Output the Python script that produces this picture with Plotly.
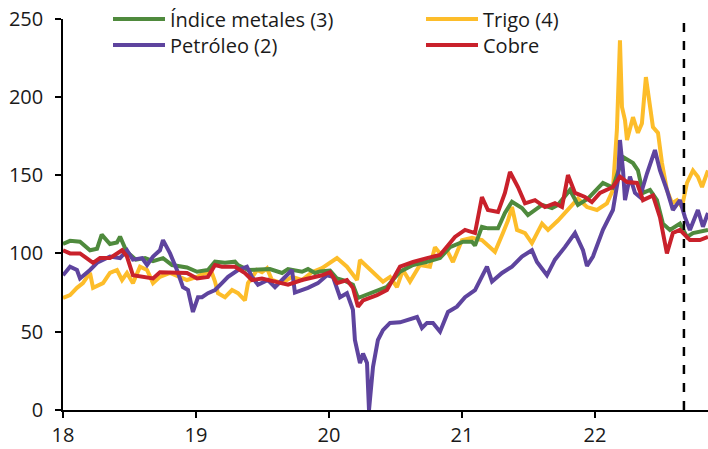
import plotly.graph_objects as go

# ---------------- data ----------------
metales_x = [2018.000, 2018.053, 2018.128, 2018.203, 2018.256, 2018.291, 2018.353, 2018.406, 2018.429, 2018.479,
             2018.549, 2018.617, 2018.677, 2018.752, 2018.820, 2018.880, 2018.932, 2019.008, 2019.090, 2019.143,
             2019.218, 2019.293, 2019.316, 2019.391, 2019.496, 2019.556, 2019.647, 2019.692, 2019.797, 2019.842,
             2019.895, 2019.932, 2020.008, 2020.060, 2020.105, 2020.180, 2020.218, 2020.308, 2020.436, 2020.534,
             2020.632, 2020.737, 2020.835, 2020.910, 2021.008, 2021.075, 2021.098, 2021.150, 2021.195, 2021.271,
             2021.323, 2021.376, 2021.451, 2021.496, 2021.602, 2021.677, 2021.722, 2021.812, 2021.872, 2021.947,
             2022.023, 2022.060, 2022.135, 2022.211, 2022.286, 2022.323, 2022.361, 2022.414, 2022.466, 2022.511,
             2022.564, 2022.639, 2022.692, 2022.737, 2022.850]
metales_y = [106, 108, 107.5, 102, 103, 112, 106, 107, 110.7, 101,
             96, 97, 95, 97, 92.6, 92, 91, 88.3, 89.4, 94.7,
             94, 94.7, 92.6, 89.4, 89.4, 90, 87.5, 90, 88.3, 90,
             87.5, 88.5, 89, 84, 83, 80, 71.5, 74.6, 78.7, 88.3,
             92.6, 94.7, 97, 104, 107.5, 107.5, 105, 117, 116, 116,
             125.8, 133, 129, 124.5, 131, 129, 131, 140.5, 131, 135,
             141.8, 145, 142, 161.5, 157.7, 153, 138.6, 140.5, 134, 119,
             115, 119, 110.5, 113, 115]

cobre_x = [2018.000, 2018.053, 2018.128, 2018.226, 2018.278, 2018.353, 2018.444, 2018.481, 2018.526, 2018.632,
           2018.677, 2018.729, 2018.827, 2018.932, 2019.008, 2019.090, 2019.143, 2019.195, 2019.293, 2019.368,
           2019.421, 2019.496, 2019.594, 2019.692, 2019.797, 2019.895, 2019.947, 2020.008, 2020.060, 2020.135,
           2020.180, 2020.218, 2020.256, 2020.361, 2020.436, 2020.534, 2020.632, 2020.737, 2020.835, 2020.910,
           2020.947, 2021.023, 2021.098, 2021.150, 2021.195, 2021.271, 2021.323, 2021.361, 2021.421, 2021.474,
           2021.549, 2021.624, 2021.699, 2021.752, 2021.797, 2021.850, 2021.925, 2021.977, 2022.038, 2022.135,
           2022.188, 2022.241, 2022.316, 2022.361, 2022.436, 2022.489, 2022.541, 2022.586, 2022.639, 2022.714,
           2022.789, 2022.850]
cobre_y = [102, 100, 100, 94, 97, 97, 102, 98, 86, 85,
           84, 88, 88, 87.5, 84, 85, 92.6, 91.5, 91.5, 87.5,
           83, 84, 82, 80, 83, 85, 86, 88, 81, 83,
           78, 66, 70, 73.4, 76.6, 91.5, 94.5, 97, 99, 106.6,
           110.5, 115, 113, 136, 127.7, 126.4, 138.6, 152, 142.4, 132,
           134, 129.6, 132, 129.6, 150, 138.6, 136, 132.8, 138.6, 142.4,
           149, 145.6, 145, 134, 137, 123, 100, 113, 115, 108.5,
           108.5, 110.5]

petroleo_x = [2018.000, 2018.053, 2018.105, 2018.128, 2018.203, 2018.256, 2018.353, 2018.429, 2018.481, 2018.526,
              2018.594, 2018.632, 2018.677, 2018.729, 2018.752, 2018.805, 2018.857, 2018.902, 2018.940, 2018.977,
              2019.015, 2019.045, 2019.090, 2019.143, 2019.195, 2019.241, 2019.316, 2019.383, 2019.421, 2019.466,
              2019.541, 2019.594, 2019.647, 2019.722, 2019.744, 2019.842, 2019.917, 2019.985, 2020.030, 2020.083,
              2020.135, 2020.180, 2020.195, 2020.233, 2020.256, 2020.286, 2020.301, 2020.331, 2020.368, 2020.406,
              2020.459, 2020.534, 2020.662, 2020.699, 2020.737, 2020.782, 2020.835, 2020.895, 2020.962, 2021.023,
              2021.098, 2021.188, 2021.226, 2021.301, 2021.376, 2021.451, 2021.526, 2021.564, 2021.639, 2021.699,
              2021.774, 2021.850, 2021.910, 2021.940, 2021.985, 2022.060, 2022.135, 2022.173, 2022.188, 2022.211,
              2022.226, 2022.263, 2022.301, 2022.338, 2022.391, 2022.429, 2022.451, 2022.489, 2022.541, 2022.586,
              2022.639, 2022.677, 2022.714, 2022.774, 2022.812, 2022.850]
petroleo_y = [86, 91.5, 89.4, 84, 89.4, 94, 98, 97, 102, 96,
              97, 92.6, 98, 102, 108.5, 100, 89.4, 78.5, 76.6, 62.6,
              72, 72, 74.6, 76.6, 81, 85, 89.4, 91.5, 85, 80,
              83, 78.5, 83, 89.4, 75, 78, 81, 86, 85, 72,
              74.6, 64, 44.7, 30, 36, 30, 0, 27.5, 44.7, 51,
              55.6, 56, 59.4, 52.4, 55.6, 55.6, 50, 62.6, 66, 72,
              76.6, 91.5, 82, 87.5, 91.5, 98, 102, 94.5, 86, 96,
              104, 113, 102, 92, 98, 115, 127.7, 147, 172.4, 153,
              134, 149, 138.6, 136, 151, 161.5, 166, 153, 140.5, 127.7,
              134, 123, 115, 127.7, 117, 125.8]

trigo_x = [2018.000, 2018.053, 2018.105, 2018.150, 2018.203, 2018.226, 2018.301, 2018.353, 2018.406, 2018.444,
           2018.481, 2018.526, 2018.579, 2018.632, 2018.677, 2018.729, 2018.805, 2018.880, 2018.932, 2019.008,
           2019.068, 2019.120, 2019.143, 2019.165, 2019.218, 2019.271, 2019.316, 2019.368, 2019.391, 2019.459,
           2019.496, 2019.534, 2019.571, 2019.647, 2019.722, 2019.797, 2019.872, 2019.947, 2019.985, 2020.060,
           2020.135, 2020.211, 2020.233, 2020.286, 2020.361, 2020.406, 2020.459, 2020.511, 2020.556, 2020.609,
           2020.684, 2020.759, 2020.797, 2020.835, 2020.887, 2020.932, 2021.000, 2021.075, 2021.150, 2021.248,
           2021.308, 2021.346, 2021.376, 2021.414, 2021.474, 2021.526, 2021.602, 2021.647, 2021.722, 2021.774,
           2021.835, 2021.872, 2021.940, 2022.015, 2022.090, 2022.135, 2022.165, 2022.188, 2022.203, 2022.226,
           2022.241, 2022.263, 2022.286, 2022.323, 2022.353, 2022.383, 2022.414, 2022.436, 2022.474, 2022.504,
           2022.541, 2022.579, 2022.617, 2022.654, 2022.692, 2022.737, 2022.774, 2022.805, 2022.850]
trigo_y = [71.5, 73.4, 78, 81, 87.5, 78, 81, 87.5, 89.4, 83,
           87.5, 81, 91.5, 89.4, 81, 85, 87.5, 85, 83, 85,
           87.5, 87.5, 82, 74.6, 72, 76.6, 74.6, 70, 81, 89.4,
           88, 90.6, 83, 81, 85, 83, 88, 90.6, 92.6, 97,
           91.5, 83, 95.8, 91.5, 86, 82, 85, 78.5, 89.4, 82,
           92.6, 91.5, 104, 100, 102, 94.5, 108.5, 110, 108.5, 101,
           113, 121, 129.6, 115, 113, 106.6, 119, 115, 121, 125.8,
           132, 135, 129.6, 127.7, 132, 140.5, 178.8, 236, 193.5, 185,
           172.4, 180.7, 187, 177, 183, 212.6, 193.5, 180.7, 177, 157.7,
           140.5, 132, 134, 129.6, 145, 153, 149, 142.4, 153]

year_ticks = [2018, 2019, 2020, 2021, 2022]
year_labels = ["18", "19", "20", "21", "22"]
y_ticks = [0, 50, 100, 150, 200, 250]
corte_x = 2022.669   # vertical dashed marker
x_range = [2018.0, 2022.85]
y_range = [0, 250]

FONT = "Open Sans"
TXT = "#1a1a1a"
fig = go.Figure()

# (name, x, y, colour, legend id) -- drawing order: yellow, green, purple, red
series = [
    ("Trigo (4)", trigo_x, trigo_y, "#fdbd2a", "legend2"),
    ("Índice metales (3)", metales_x, metales_y, "#4f8a3d", "legend"),
    ("Petróleo (2)", petroleo_x, petroleo_y, "#5e449e", "legend3"),
    ("Cobre", cobre_x, cobre_y, "#c9212b", "legend4"),
]
for name, xs, ys, col, leg in series:
    fig.add_trace(go.Scatter(x=xs, y=ys, mode="lines", name=name, legend=leg,
                             line=dict(color=col, width=4)))

fig.add_shape(type="line", xref="x", yref="y", x0=corte_x, x1=corte_x, y0=y_range[0], y1=y_range[1],
              line=dict(color="black", width=2.5, dash="dash"))

H = 449
B = 39
plot_top_px = 18.5
paper_h = H - B
ITEMW = 52
col1_x = (130 - (ITEMW - 30) - 63) / 645
col2_x = (443 - (ITEMW - 30) - 63) / 645
row1_y = (paper_h - 19) / paper_h
row2_y = (paper_h - 45) / paper_h

def leg(x, y):
    return dict(x=x, y=y, xanchor="left", yanchor="middle", orientation="v", itemwidth=ITEMW,
                bgcolor="rgba(0,0,0,0)", font=dict(family=FONT, size=20, color=TXT))

fig.update_layout(
    width=708, height=H,
    margin=dict(l=63, r=0, t=0, b=B, autoexpand=False),
    paper_bgcolor="white", plot_bgcolor="white",
    font=dict(family=FONT, size=20, color=TXT),
    showlegend=True,
    legend=leg(col1_x, row1_y),
    legend2=leg(col2_x, row1_y),
    legend3=leg(col1_x, row2_y),
    legend4=leg(col2_x, row2_y),
)
fig.update_xaxes(range=x_range, tickvals=year_ticks, ticktext=year_labels,
                 showline=True, linecolor="black", linewidth=1.5, ticks="outside",
                 ticklen=6, tickcolor="black", tickwidth=1.5, showgrid=False, zeroline=False,
                 ticklabelstandoff=0)
fig.update_yaxes(range=y_range, tickvals=y_ticks, showline=True, linecolor="black", linewidth=1.5,
                 ticks="outside", ticklen=6, tickcolor="black", tickwidth=1.5, showgrid=False, zeroline=False,
                 domain=[0, (paper_h - plot_top_px) / paper_h], ticklabelstandoff=8)

fig.write_html("out.html", config={"displayModeBar": False},
               post_script="document.body.style.margin='0';document.body.style.overflow='hidden';")
